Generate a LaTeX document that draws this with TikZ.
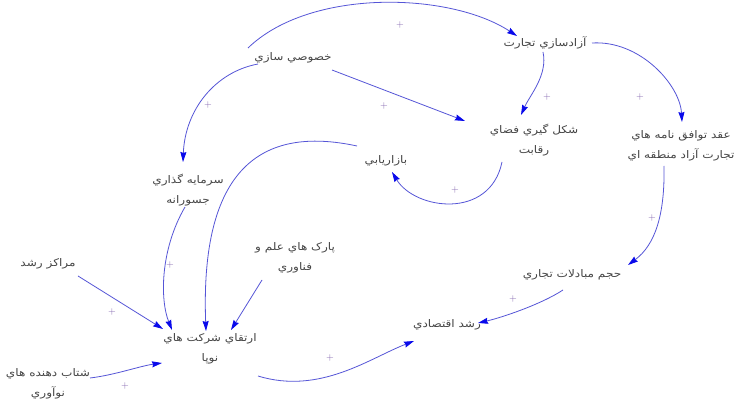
\documentclass[tikz,border=0pt]{standalone}
\usepackage{fontspec}
\TeXXeTstate=1
\newfontfamily\fa[Script=Arabic,FakeStretch=1.15]{DejaVu Sans}
\usetikzlibrary{arrows.meta,calc}
\definecolor{lineblue}{RGB}{85,85,215}
\definecolor{headblue}{RGB}{10,10,235}
\definecolor{txt}{RGB}{70,70,70}
\definecolor{plusc}{RGB}{130,100,175}
\newcommand\rl[1]{\beginR #1\endR}
\begin{document}
\begin{tikzpicture}[x=1pt,y=-1pt,
  lbl/.style={font=\fa\fontsize{10.5}{20}\selectfont, text=txt, align=center, inner sep=1pt},
  arr/.style={draw=lineblue, line width=0.8pt, -{Stealth[length=10pt,width=6pt,inset=1pt,color=headblue]}},
  pl/.style={font=\fontsize{10}{10}\selectfont, text=plusc, inner sep=0pt}]
\useasboundingbox[fill=white] (0,0) rectangle (734,411);
% nodes
\node[lbl] (priv) at (293,58) {\rl{خصوصي سازي}};
\node[lbl] (lib) at (545,43) {\rl{آزادسازي تجارت}};
\node[lbl] (comp) at (534,140) {\rl{شکل گيري فضاي}\\\rl{رقابت}};
\node[lbl] (fta) at (681,146) {\rl{عقد توافق نامه هاي}\\\rl{تجارت آزاد منطقه اي}};
\node[lbl] (mkt) at (386,161) {\rl{بازاريابي}};
\node[lbl] (vc) at (188,190) {\rl{سرمايه گذاري}\\\rl{جسورانه}};
\node[lbl] (park) at (295,258) {\rl{پارک هاي علم و}\\\rl{فناوري}};
\node[lbl] (inc) at (48,264) {\rl{مراکز رشد}};
\node[lbl] (start) at (210,349) {\rl{ارتقاي شرکت هاي}\\\rl{نوپا}};
\node[lbl] (acc) at (48,384) {\rl{شتاب دهنده هاي}\\\rl{نوآوري}};
\node[lbl] (grow) at (447,325) {\rl{رشد اقتصادي}};
\node[lbl] (vol) at (572,275) {\rl{حجم مبادلات تجاري}};
% connectors
\draw[arr] ($(priv)+(-45,-10)$) .. controls (310,-12) and (450,-8) .. ($(lib)+(-28,-7)$);
\draw[arr] ($(priv)+(39,12)$) -- ($(comp)+(-69,-19)$);
\draw[arr] ($(priv)+(-35,6)$) .. controls (215,72) and (185,110) .. ($(vc)+(-5,-28)$);
\draw[arr] ($(lib)+(-2,9)$) .. controls (548,75) and (530,95) .. ($(comp)+(-13,-25)$);
\draw[arr] ($(lib)+(47,0)$) .. controls (640,40) and (680,85) .. ($(fta)+(1,-24)$);
\draw[arr] ($(comp)+(-32,22)$) .. controls (490,220) and (415,210) .. ($(mkt)+(6,11)$);
\draw[arr] ($(fta)+(-17,20)$) .. controls (665,215) and (655,245) .. ($(vol)+(56,-10)$);
\draw[arr] ($(vol)+(-9,15)$) .. controls (540,305) and (500,318) .. ($(grow)+(31,-2)$);
\draw[arr] ($(mkt)+(-29,-15)$) .. controls (260,125) and (200,170) .. ($(start)+(-4,-18)$);
\draw[arr] ($(vc)+(-3,17)$) .. controls (160,250) and (160,300) .. ($(start)+(-38,-19)$);
\draw[arr] ($(inc)+(30,12)$) -- ($(start)+(-47,-20)$);
\draw[arr] ($(park)+(-33,22)$) -- ($(start)+(21,-19)$);
\draw[arr] ($(acc)+(42,-6)$) .. controls (115,375) and (140,366) .. ($(start)+(-48,14)$);
\draw[arr] ($(start)+(48,27)$) .. controls (320,395) and (370,358) .. ($(grow)+(-33,16)$);
% polarity signs
\node[pl] at (400,25) {+};
\node[pl] at (384,106) {+};
\node[pl] at (208,105) {+};
\node[pl] at (547,97) {+};
\node[pl] at (640,97) {+};
\node[pl] at (455,190) {+};
\node[pl] at (652,218) {+};
\node[pl] at (513,299) {+};
\node[pl] at (170,265) {+};
\node[pl] at (112,312) {+};
\node[pl] at (125,386) {+};
\node[pl] at (330,358) {+};
\end{tikzpicture}
\end{document}
